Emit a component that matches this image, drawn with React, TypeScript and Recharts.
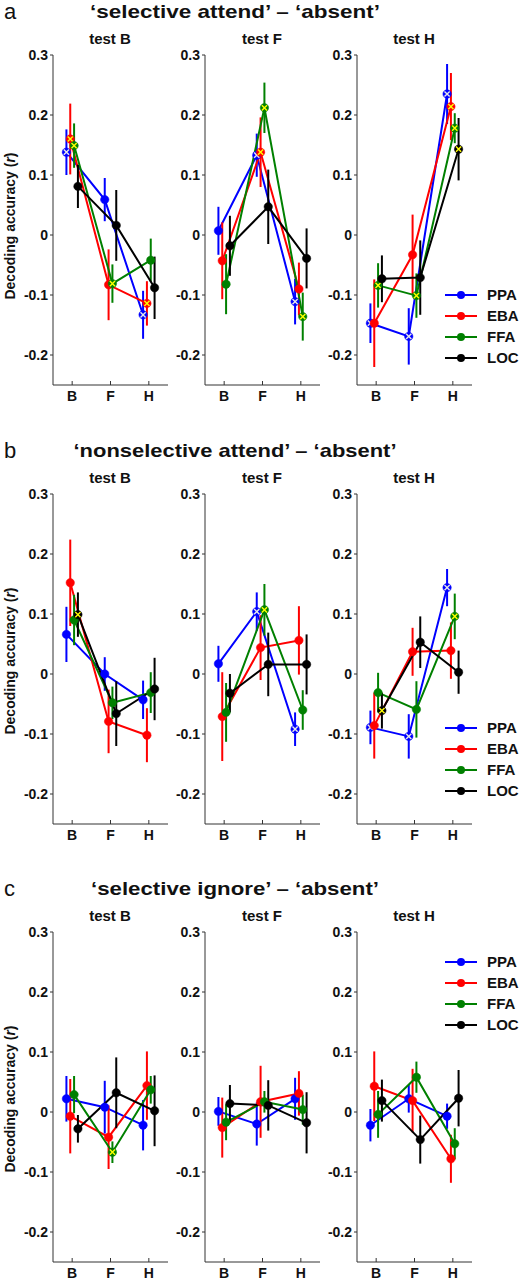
import React from 'react';
import { LineChart, Line, XAxis, YAxis, ErrorBar, Legend } from 'recharts';

const FONT = '"Liberation Sans", Arial, Helvetica, sans-serif';

const CATEGORIES = ['B', 'F', 'H'];
const TESTS = ['test B', 'test F', 'test H'];
const REGIONS = ['PPA', 'EBA', 'FFA', 'LOC'];
const COLORS = ['#0000ff', '#ff0000', '#008000', '#000000'];
const X_COLORS = ['#e8e8e8', '#ffff00', '#ffff00', '#ffff00'];
const OFFSETS = [-0.15, -0.05, 0.05, 0.15];
const Y_TICKS = [-0.2, -0.1, 0, 0.1, 0.2, 0.3];
const ROW_LETTERS = ['a', 'b', 'c'];
const ROW_TITLES = [
  '\u2018selective attend\u2019 \u2013 \u2018absent\u2019',
  '\u2018nonselective attend\u2019 \u2013 \u2018absent\u2019',
  '\u2018selective ignore\u2019 \u2013 \u2018absent\u2019',
];
const Y_LABEL = 'Decoding accuracy (';

// rows: [PPA, EBA, FFA, LOC], columns: B, F, H
// ---- a: selective attend - absent ----
const aB_mean = [[0.138, 0.059, -0.133], [0.160, -0.083, -0.114], [0.149, -0.081, -0.042], [0.081, 0.016, -0.088]];
const aB_err = [[0.038, 0.036, 0.040], [0.059, 0.059, 0.037], [0.037, 0.032, 0.036], [0.036, 0.059, 0.052]];
const aB_sig = [[1, 0, 1], [1, 0, 1], [1, 1, 0], [0, 0, 0]];

const aF_mean = [[0.007, 0.133, -0.111], [-0.043, 0.138, -0.090], [-0.082, 0.212, -0.136], [-0.018, 0.047, -0.039]];
const aF_err = [[0.040, 0.036, 0.038], [0.064, 0.058, 0.044], [0.050, 0.042, 0.040], [0.050, 0.062, 0.050]];
const aF_sig = [[0, 1, 1], [0, 1, 0], [0, 1, 1], [0, 0, 0]];

const aH_mean = [[-0.147, -0.169, 0.235], [-0.147, -0.033, 0.214], [-0.084, -0.101, 0.178], [-0.073, -0.071, 0.143]];
const aH_err = [[0.033, 0.047, 0.050], [0.073, 0.067, 0.056], [0.037, 0.037, 0.025], [0.039, 0.062, 0.052]];
const aH_sig = [[1, 1, 1], [0, 0, 1], [1, 1, 1], [0, 0, 1]];

// ---- b: nonselective attend - absent ----
const bB_mean = [[0.066, 0.000, -0.043], [0.152, -0.079, -0.102], [0.090, -0.048, -0.031], [0.099, -0.066, -0.025]];
const bB_err = [[0.046, 0.028, 0.032], [0.072, 0.053, 0.045], [0.042, 0.027, 0.034], [0.037, 0.054, 0.052]];
const bB_sig = [[0, 0, 0], [0, 0, 0], [0, 0, 0], [1, 0, 0]];

const bF_mean = [[0.017, 0.104, -0.092], [-0.071, 0.044, 0.056], [-0.064, 0.107, -0.060], [-0.032, 0.016, 0.016]];
const bF_err = [[0.030, 0.032, 0.028], [0.074, 0.054, 0.057], [0.049, 0.043, 0.033], [0.032, 0.053, 0.050]];
const bF_sig = [[0, 1, 1], [0, 0, 0], [0, 1, 0], [0, 0, 0]];

const bH_mean = [[-0.089, -0.104, 0.144], [-0.086, 0.037, 0.039], [-0.031, -0.059, 0.096], [-0.061, 0.053, 0.003]];
const bH_err = [[0.028, 0.037, 0.031], [0.055, 0.040, 0.047], [0.033, 0.047, 0.038], [0.030, 0.043, 0.036]];
const bH_sig = [[1, 1, 1], [0, 0, 0], [0, 0, 1], [1, 0, 0]];

// ---- c: selective ignore - absent ----
const cB_mean = [[0.022, 0.008, -0.022], [-0.007, -0.042, 0.044], [0.029, -0.067, 0.037], [-0.028, 0.032, 0.002]];
const cB_err = [[0.038, 0.044, 0.042], [0.062, 0.053, 0.057], [0.031, 0.018, 0.023], [0.023, 0.059, 0.059]];
const cB_sig = [[0, 0, 0], [0, 0, 0], [0, 1, 0], [0, 0, 0]];

const cF_mean = [[0.001, -0.020, 0.022], [-0.026, 0.017, 0.031], [-0.017, 0.017, 0.004], [0.014, 0.011, -0.018]];
const cF_err = [[0.024, 0.036, 0.035], [0.050, 0.060, 0.037], [0.030, 0.018, 0.025], [0.031, 0.042, 0.051]];
const cF_sig = [[0, 0, 0], [0, 0, 0], [0, 0, 0], [0, 0, 0]];

const cH_mean = [[-0.022, 0.022, -0.007], [0.043, 0.019, -0.078], [-0.004, 0.058, -0.053], [0.019, -0.046, 0.023]];
const cH_err = [[0.027, 0.023, 0.021], [0.058, 0.053, 0.040], [0.039, 0.026, 0.026], [0.035, 0.040, 0.047]];
const cH_sig = [[0, 0, 0], [0, 0, 0], [0, 0, 0], [0, 0, 0]];

const PANELS = [
  [[aB_mean, aB_err, aB_sig], [aF_mean, aF_err, aF_sig], [aH_mean, aH_err, aH_sig]],
  [[bB_mean, bB_err, bB_sig], [bF_mean, bF_err, bF_sig], [bH_mean, bH_err, bH_sig]],
  [[cB_mean, cB_err, cB_sig], [cF_mean, cF_err, cF_sig], [cH_mean, cH_err, cH_sig]],
];

// layout
const ROW_TOP = [0, 439, 877];
const AXIS_X = [53, 205, 357];
const LEGEND_TOP = [240, 234, 30];
const Y_LABEL_CENTER = [226, 661, 1099];
const TITLE_LEN = [290, 323, 288];
const CHART_W = 175;
const CHART_H = 370;

const makeDot = (color: string, xColor: string) => (props: any) => {
  const { cx, cy, payload, index } = props;
  if (cx == null || cy == null) return <g key={`e-${index}`} />;
  const d = 2.6;
  return (
    <g key={`d-${index}`}>
      <circle cx={cx} cy={cy} r={4.2} fill={color} stroke={color} strokeWidth={0.5} />
      {payload && payload.sig ? (
        <path
          d={`M${cx - d},${cy - d}L${cx + d},${cy + d}M${cx - d},${cy + d}L${cx + d},${cy - d}`}
          stroke={xColor}
          strokeWidth={1.4}
        />
      ) : null}
    </g>
  );
};

const renderLegend = () => (
  <svg width={84} height={88} style={{ overflow: 'visible' }}>
    {REGIONS.map((name, i) => {
      const y = 10 + 21 * i;
      return (
        <g key={name}>
          <line x1={0} x2={32} y1={y} y2={y} stroke={COLORS[i]} strokeWidth={2} />
          <circle cx={16} cy={y} r={4} fill={COLORS[i]} />
          <text x={42} y={y} dy="0.36em" fontSize={15} fontWeight="bold" fontFamily={FONT} fill="#111">
            {name}
          </text>
        </g>
      );
    })}
  </svg>
);

function Panel({ row, col }: { row: number; col: number }) {
  const [means, errs, sigs] = PANELS[row][col];
  const left = AXIS_X[col] - 50;
  const top = ROW_TOP[row] + 45;
  const tickStyle = { fill: '#111', fontSize: 14, fontWeight: 'bold', fontFamily: FONT };
  return (
    <div style={{ position: 'absolute', left, top, width: CHART_W, height: CHART_H }}>
      <LineChart width={CHART_W} height={CHART_H} margin={{ top: 10, right: 10, left: 0, bottom: 0 }}>
        <XAxis
          type="number"
          dataKey="x"
          domain={[0.5, 3.5]}
          ticks={[1, 2, 3]}
          tickFormatter={(v: number) => CATEGORIES[Math.round(v) - 1]}
          allowDataOverflow
          height={30}
          tickSize={-4}
          tickMargin={10}
          stroke="#333"
          tick={tickStyle}
        />
        <YAxis
          type="number"
          domain={[-0.25, 0.3]}
          ticks={Y_TICKS}
          tickFormatter={(v: number) => String(v)}
          allowDataOverflow
          width={50}
          tickSize={3}
          tickMargin={2}
          stroke="#333"
          tick={tickStyle}
        />
        {REGIONS.map((name, s) => (
          <Line
            key={name}
            name={name}
            data={CATEGORIES.map((c, i) => ({
              cat: c,
              x: i + 1 + OFFSETS[s],
              y: means[s][i],
              err: errs[s][i],
              sig: sigs[s][i],
            }))}
            dataKey="y"
            stroke={COLORS[s]}
            strokeWidth={2}
            isAnimationActive={false}
            dot={makeDot(COLORS[s], X_COLORS[s])}
            activeDot={false}
          >
            <ErrorBar dataKey="err" direction="y" width={0} stroke={COLORS[s]} strokeWidth={2} isAnimationActive={false} />
          </Line>
        ))}
        {col === 2 ? (
          <Legend
            layout="vertical"
            align="center"
            verticalAlign="middle"
            wrapperStyle={{ left: 138, top: LEGEND_TOP[row], width: 84, height: 88 }}
            content={renderLegend}
          />
        ) : null}
      </LineChart>
    </div>
  );
}

export default function App() {
  return (
    <div
      style={{
        position: 'absolute',
        left: 0,
        top: 0,
        width: 521,
        height: 1280,
        background: '#fff',
        overflow: 'hidden',
      }}
    >
      {ROW_TOP.map((rt, row) =>
        [0, 1, 2].map((col) => <Panel key={`${row}-${col}`} row={row} col={col} />)
      )}
      <svg
        width={521}
        height={1280}
        style={{ position: 'absolute', left: 0, top: 0, pointerEvents: 'none' }}
      >
        {ROW_TOP.map((rt, row) => (
          <g key={`t-${row}`}>
            <text x={4} y={rt + 19} fontSize={22} fontFamily={FONT} fill="#111">
              {ROW_LETTERS[row]}
            </text>
            <text
              x={235}
              y={rt + 18}
              textAnchor="middle"
              fontSize={19}
              fontWeight="bold"
              fontFamily={FONT}
              fill="#111"
              textLength={TITLE_LEN[row]}
              lengthAdjust="spacingAndGlyphs"
            >
              {ROW_TITLES[row]}
            </text>
            {TESTS.map((t, col) => (
              <text
                key={t}
                x={AXIS_X[col] + 57}
                y={rt + 44}
                textAnchor="middle"
                fontSize={15}
                fontWeight="bold"
                fontFamily={FONT}
                fill="#111"
              >
                {t}
              </text>
            ))}
            <text
              transform={`translate(15, ${Y_LABEL_CENTER[row]}) rotate(-90)`}
              textAnchor="middle"
              fontSize={14}
              fontWeight="bold"
              fontFamily={FONT}
              fill="#111"
            >
              {Y_LABEL}
              <tspan fontStyle="italic">r</tspan>)
            </text>
          </g>
        ))}
      </svg>
    </div>
  );
}
